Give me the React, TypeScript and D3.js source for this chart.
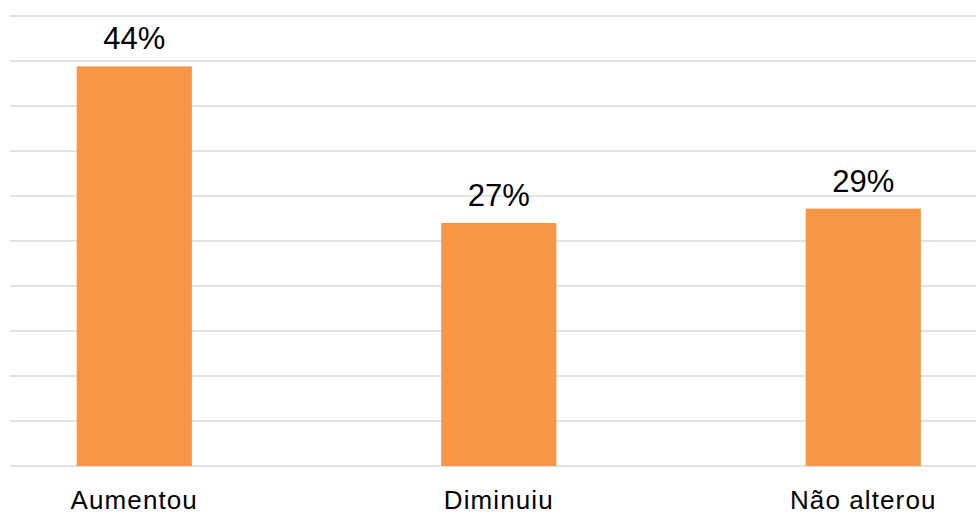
import * as d3 from "d3";

const categories = ["Aumentou", "Diminuiu", "Não alterou"];
const values = [44.4, 27.0, 28.6];
const gridTicks = d3.range(0, 51, 5);

const W = 976;
const H = 516;

export default function App() {
  const x = d3
    .scaleBand()
    .domain(categories)
    .range([-48, 1045.5])
    .paddingInner(0.684)
    .paddingOuter(0.342);
  const y = d3.scaleLinear().domain([0, 50]).range([466, 16]);
  const fmt = (v: number) => `${d3.format(".0f")(v)}%`;

  return (
    <div style={{ position: "absolute", left: 0, top: 0 }}>
      <svg
        width={W}
        height={H}
        style={{ display: "block", background: "#fff" }}
        fontFamily="'Liberation Sans', Arial, sans-serif"
      >
        {/* gridlines */}
        {gridTicks.map((t) => (
          <line
            key={t}
            x1={10}
            x2={W}
            y1={y(t)}
            y2={y(t)}
            stroke="#d9d9d9"
            strokeWidth={1.5}
          />
        ))}

        {/* bars */}
        {categories.map((c, i) => (
          <rect
            key={c}
            x={x(c)}
            y={y(values[i])}
            width={x.bandwidth()}
            height={y(0) - y(values[i])}
            fill="#f79646"
          />
        ))}

        {/* value labels */}
        {categories.map((c, i) => (
          <text
            key={c}
            x={(x(c) ?? 0) + x.bandwidth() / 2}
            y={y(values[i]) - 17}
            textAnchor="middle"
            fontSize={31}
            fill="#000"
          >
            {fmt(values[i])}
          </text>
        ))}

        {/* category labels */}
        {categories.map((c) => (
          <text
            key={c}
            x={(x(c) ?? 0) + x.bandwidth() / 2}
            y={509}
            textAnchor="middle"
            fontSize={26}
            letterSpacing={1.1}
            fill="#000"
          >
            {c}
          </text>
        ))}
      </svg>
    </div>
  );
}
